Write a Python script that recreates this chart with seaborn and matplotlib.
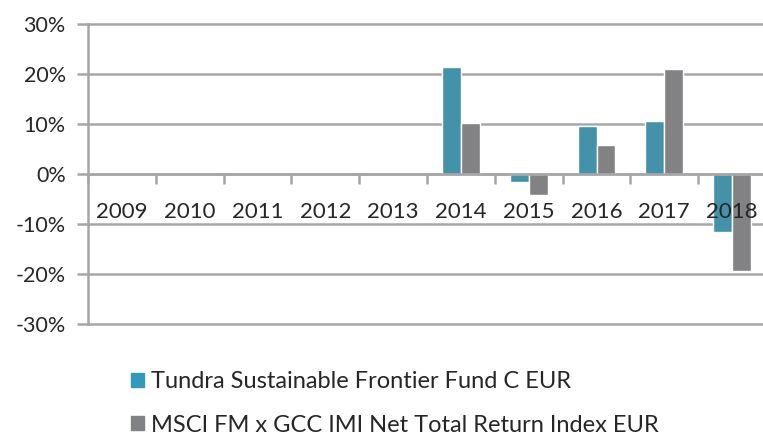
import numpy as np
import pandas as pd
import matplotlib.pyplot as plt
import seaborn as sns
from matplotlib.patches import Patch

sns.set_style('white')
plt.rcParams['font.family'] = ['Lato', 'DejaVu Sans']

years = ['2009', '2010', '2011', '2012', '2013', '2014', '2015', '2016', '2017', '2018']
fund = [np.nan, np.nan, np.nan, np.nan, np.nan, 21.4, -1.6, 9.6, 10.6, -11.6]
index = [np.nan, np.nan, np.nan, np.nan, np.nan, 10.2, -4.2, 5.8, 21.0, -19.4]
fund_name = 'Tundra Sustainable Frontier Fund C EUR'
index_name = 'MSCI FM x GCC IMI Net Total Return Index EUR'
colors = ['#3399bb', '#818285']

df = pd.DataFrame({'Year': years * 2,
                   'Return': fund + index,
                   'Series': [fund_name] * 10 + [index_name] * 10})

fig = plt.figure(figsize=(7.63, 4.36), dpi=100)
ax = fig.add_axes([88 / 763, 1 - 324 / 436, 678 / 763, 300 / 436])

sns.barplot(x='Year', y='Return', hue='Series', data=df, palette=colors,
            width=0.56, ax=ax, legend=False)

ax.set_ylim(-30, 30)
ax.set_xlim(-0.5, 9.5)
ax.set_yticks(np.arange(-30, 31, 10))
ax.set_yticklabels([f'{v}%' for v in range(-30, 31, 10)], fontsize=15.5)
ax.yaxis.grid(True, color='#a6a6a6', linewidth=1.8)
for gl in ax.get_ygridlines():
    gl.set_clip_on(False)
ax.set_axisbelow(True)

for s in ['top', 'right']:
    ax.spines[s].set_visible(False)
ax.spines['left'].set_color('#a6a6a6')
ax.spines['left'].set_linewidth(1.8)
ax.spines['bottom'].set_position(('data', 0))
ax.spines['bottom'].set_color('#a6a6a6')
ax.spines['bottom'].set_linewidth(1.8)

ax.tick_params(axis='y', direction='out', length=8, width=1.8, color='#a6a6a6', left=True, pad=8)
ax.set_xticks(range(10))
ax.set_xticklabels([])
ax.set_xticks(np.arange(-0.5, 10, 1), minor=True)
ax.tick_params(axis='x', which='major', length=0)
ax.tick_params(axis='x', which='minor', direction='out', length=7, width=1.8, color='#a6a6a6', bottom=True)
# year labels sit inside the plot, drawn over the bars
for i, yr in enumerate(years):
    ax.text(i, -7.6, yr, ha='center', va='center', fontsize=16, zorder=5)
ax.set_xlabel('')
ax.set_ylabel('')

handles = [Patch(color=colors[0], label=fund_name), Patch(color=colors[1], label=index_name)]
fig.legend(handles=handles, loc='upper left', bbox_to_anchor=(110 / 763, 1 - 350 / 436),
           frameon=False, fontsize=17, handlelength=0.55, handleheight=0.55,
           handletextpad=0.3, labelspacing=0.95)

fig.savefig('out.png', dpi=100)
